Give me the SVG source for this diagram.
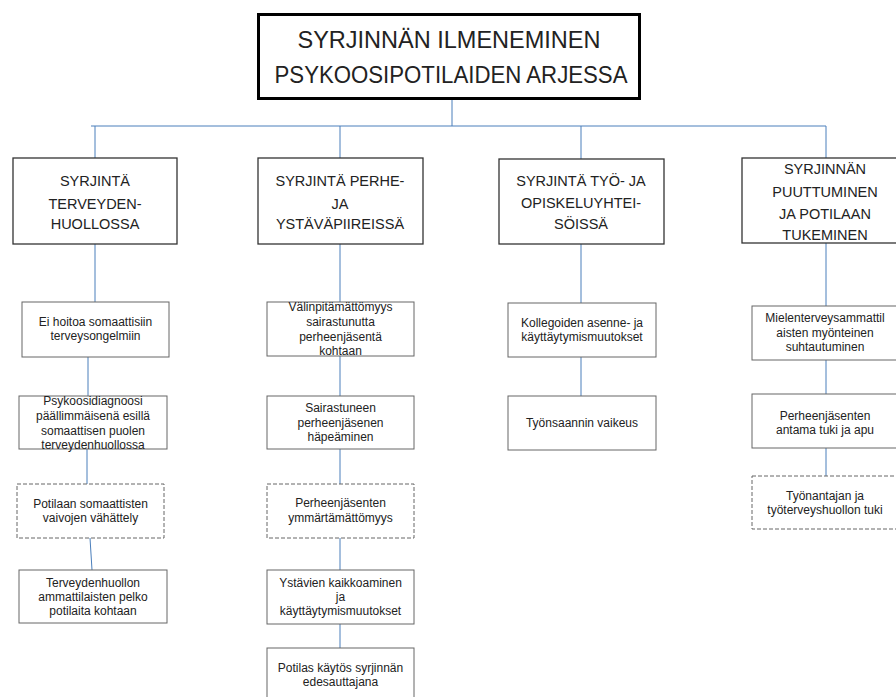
<svg xmlns="http://www.w3.org/2000/svg" width="896" height="697" viewBox="0 0 896 697">
<style>
text{font-family:"Liberation Sans",Arial,sans-serif;fill:#222;text-anchor:middle}
.t{font-size:24px}
.h{font-size:14.5px}
.c{font-size:12px}
.hb{fill:#fff;stroke:#333;stroke-width:1.3}
.cb{fill:#fff;stroke:#666;stroke-width:1}
.db{fill:#fff;stroke:#666;stroke-width:1;stroke-dasharray:4 2}
.ln{fill:none;stroke:#4a7ebb;stroke-width:1}
</style>
<rect width="896" height="697" fill="#fff"/>
<g id="connectors">
<path class="ln" d="M452 99V126M91 126H826M95 126V158M340 126V158M581 126V159M826 126V158"/>
<path class="ln" d="M95 244V302M88 357V396M87 449V484M90 538L92 570"/>
<path class="ln" d="M340 244V302M340 356V396M340 449V484M340 538V570M340 624V648"/>
<path class="ln" d="M581 244V303M581 357V396"/>
<path class="ln" d="M826 243V306M826 360V394M826 448V476"/>
</g>
<g id="title">
<rect x="258.5" y="14.5" width="381" height="84" fill="#fff" stroke="#000" stroke-width="3"/>
<text class="t" x="449" y="48" textLength="303" lengthAdjust="spacingAndGlyphs">SYRJINNÄN ILMENEMINEN</text>
<text class="t" x="451" y="83" textLength="353" lengthAdjust="spacingAndGlyphs">PSYKOOSIPOTILAIDEN ARJESSA</text>
</g>
<g id="h1">
<rect class="hb" x="13" y="158" width="164" height="86"/>
<text class="h" x="95" y="186">SYRJINTÄ</text>
<text class="h" x="95" y="209">TERVEYDEN-</text>
<text class="h" x="95" y="229">HUOLLOSSA</text>
</g>
<g id="h2">
<rect class="hb" x="258" y="158" width="165" height="86"/>
<text class="h" x="340" y="186">SYRJINTÄ PERHE-</text>
<text class="h" x="340" y="209">JA</text>
<text class="h" x="340" y="229">YSTÄVÄPIIREISSÄ</text>
</g>
<g id="h3">
<rect class="hb" x="499" y="159" width="165" height="85"/>
<text class="h" x="581" y="186">SYRJINTÄ TYÖ- JA</text>
<text class="h" x="581" y="208">OPISKELUYHTEI-</text>
<text class="h" x="581" y="229">SÖISSÄ</text>
</g>
<g id="h4">
<rect class="hb" x="742" y="158" width="155" height="85"/>
<text class="h" x="825" y="174">SYRJINNÄN</text>
<text class="h" x="825" y="197">PUUTTUMINEN</text>
<text class="h" x="825" y="219">JA POTILAAN</text>
<text class="h" x="825" y="240">TUKEMINEN</text>
</g>
<g id="c1a">
<rect class="cb" x="22" y="302" width="147" height="55"/>
<text class="c" x="95.5" y="326">Ei hoitoa somaattisiin</text>
<text class="c" x="95.5" y="340">terveysongelmiin</text>
</g>
<g id="c1b">
<rect class="cb" x="19" y="396" width="148" height="53"/>
<text class="c" x="93" y="405">Psykoosidiagnoosi</text>
<text class="c" x="93" y="420">päällimmäisenä esillä</text>
<text class="c" x="93" y="435">somaattisen puolen</text>
<text class="c" x="93" y="449">terveydenhuollossa</text>
</g>
<g id="c1c">
<rect class="db" x="17" y="484" width="147" height="54"/>
<text class="c" x="90.5" y="508">Potilaan somaattisten</text>
<text class="c" x="90.5" y="522">vaivojen vähättely</text>
</g>
<g id="c1d">
<rect class="cb" x="19" y="570" width="148" height="53"/>
<text class="c" x="93" y="587">Terveydenhuollon</text>
<text class="c" x="93" y="601">ammattilaisten pelko</text>
<text class="c" x="93" y="615">potilaita kohtaan</text>
</g>
<g id="c2a">
<rect class="cb" x="267" y="302" width="147" height="54"/>
<text class="c" x="340.5" y="311">Välinpitämättömyys</text>
<text class="c" x="340.5" y="326">sairastunutta</text>
<text class="c" x="340.5" y="341">perheenjäsentä</text>
<text class="c" x="340.5" y="355">kohtaan</text>
</g>
<g id="c2b">
<rect class="cb" x="267" y="396" width="147" height="53"/>
<text class="c" x="340.5" y="412">Sairastuneen</text>
<text class="c" x="340.5" y="427">perheenjäsenen</text>
<text class="c" x="340.5" y="441">häpeäminen</text>
</g>
<g id="c2c">
<rect class="db" x="267" y="484" width="147" height="54"/>
<text class="c" x="340.5" y="507">Perheenjäsenten</text>
<text class="c" x="340.5" y="522">ymmärtämättömyys</text>
</g>
<g id="c2d">
<rect class="cb" x="267" y="570" width="147" height="54"/>
<text class="c" x="340.5" y="587">Ystävien kaikkoaminen</text>
<text class="c" x="340.5" y="601">ja</text>
<text class="c" x="340.5" y="615">käyttäytymismuutokset</text>
</g>
<g id="c2e">
<rect class="cb" x="267" y="648" width="147" height="54"/>
<text class="c" x="340.5" y="672">Potilas käytös syrjinnän</text>
<text class="c" x="340.5" y="686">edesauttajana</text>
</g>
<g id="c3a">
<rect class="cb" x="508" y="303" width="148" height="54"/>
<text class="c" x="582" y="327">Kollegoiden asenne- ja</text>
<text class="c" x="582" y="341">käyttäytymismuutokset</text>
</g>
<g id="c3b">
<rect class="cb" x="508" y="396" width="148" height="54"/>
<text class="c" x="582" y="427">Työnsaannin vaikeus</text>
</g>
<g id="c4a">
<rect class="cb" x="752" y="306" width="146" height="54"/>
<text class="c" x="825" y="322">Mielenterveysammattil</text>
<text class="c" x="825" y="337">aisten myönteinen</text>
<text class="c" x="825" y="351">suhtautuminen</text>
</g>
<g id="c4b">
<rect class="cb" x="752" y="394" width="146" height="54"/>
<text class="c" x="825" y="420">Perheenjäsenten</text>
<text class="c" x="825" y="434">antama tuki ja apu</text>
</g>
<g id="c4c">
<rect class="db" x="752" y="476" width="146" height="53"/>
<text class="c" x="825" y="500">Työnantajan ja</text>
<text class="c" x="825" y="514">työterveyshuollon tuki</text>
</g>
</svg>
